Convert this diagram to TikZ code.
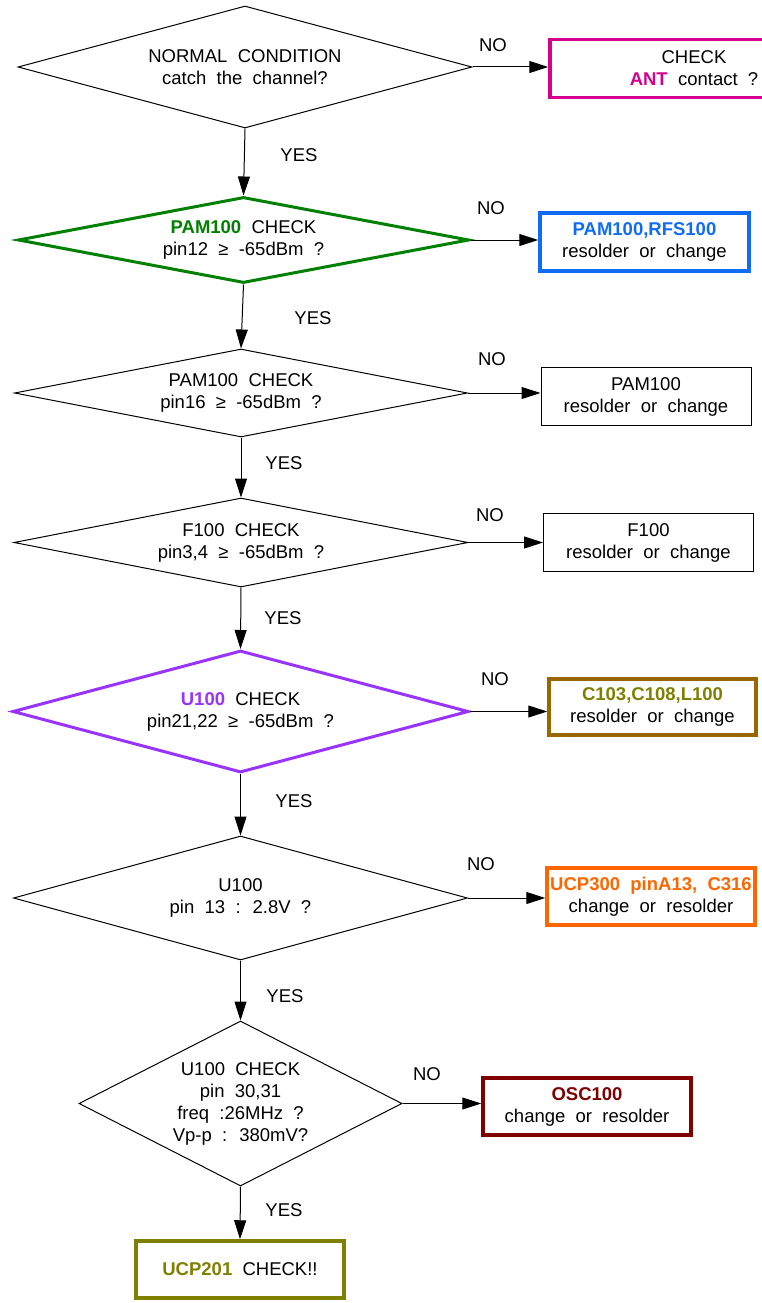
\documentclass[tikz,border=0pt]{standalone}
\usepackage{fontspec}
\setmainfont{Liberation Sans}[WordSpace=2]
\usetikzlibrary{shapes.geometric,arrows.meta}
\definecolor{cMag}{RGB}{214,0,143}
\definecolor{cGreen}{RGB}{0,128,0}
\definecolor{cBlue}{RGB}{17,108,245}
\definecolor{cPurple}{RGB}{153,51,255}
\definecolor{cBrown}{RGB}{153,102,0}
\definecolor{cOlive}{RGB}{128,128,0}
\definecolor{cOrange}{RGB}{255,102,0}
\definecolor{cDark}{RGB}{128,0,0}
\begin{document}
\begin{tikzpicture}[x=1pt,y=-1pt,
  every node/.style={font=\fontsize{18.5}{22}\selectfont},
  dia/.style={diamond, draw, inner sep=0pt, line width=1pt, align=center},
  thickdia/.style={dia, line width=3pt},
  box/.style={rectangle, draw, inner sep=0pt, align=center, line width=1pt},
  thickbox/.style={box, line width=3.5pt},
  arr/.style={line width=1pt, -{Triangle[length=19pt,width=12pt]}},
  lbl/.style={inner sep=0pt}]
\path[use as bounding box] (0,0) rectangle (762,1303);
\clip (0,0) rectangle (762,1303);
\fill[white] (0,0) rectangle (762,1303);

% decisions
\node[dia, minimum width=454pt, minimum height=122pt, shape aspect=3.72] (d1) at (245,67)
  {NORMAL CONDITION\\catch the channel?};
\node[thickdia, draw=cGreen, minimum width=451pt, minimum height=86pt, shape aspect=5.24] (d2) at (243.5,240)
  {\textcolor{cGreen}{\bfseries PAM100} CHECK\\pin12 ≥ -65dBm ?};
\node[dia, minimum width=453pt, minimum height=88pt, shape aspect=5.15] (d3) at (241,393)
  {PAM100 CHECK\\pin16 ≥ -65dBm ?};
\node[dia, minimum width=454pt, minimum height=89pt, shape aspect=5.1] (d4) at (241,542.5)
  {F100 CHECK\\pin3,4 ≥ -65dBm ?};
\node[thickdia, draw=cPurple, minimum width=456pt, minimum height=122pt, shape aspect=3.74] (d5) at (240.5,711.5)
  {\textcolor{cPurple}{\bfseries U100} CHECK\\pin21,22 ≥ -65dBm ?};
\node[dia, minimum width=454pt, minimum height=124pt, shape aspect=3.66] (d6) at (240.5,898)
  {U100\\pin 13 : 2.8V ?};
\node[dia, minimum width=323pt, minimum height=165pt, shape aspect=1.96] (d7) at (240.5,1103.5)
  {U100 CHECK\\pin 30,31\\freq :26MHz ?\\Vp-p : 380mV?};

% result boxes
\node[thickbox, draw=cMag, minimum width=288pt, minimum height=58pt] (b1) at (694,68.5)
  {CHECK\\\textcolor{cMag}{\bfseries ANT} contact ?};
\node[thickbox, draw=cBlue, minimum width=209pt, minimum height=58pt] (b2) at (644.5,242)
  {\textcolor{cBlue}{\bfseries PAM100,RFS100}\\resolder or change};
\node[box, minimum width=210pt, minimum height=58pt] (b3) at (646,396.5)
  {PAM100\\resolder or change};
\node[box, minimum width=210pt, minimum height=58pt] (b4) at (648.5,542.5)
  {F100\\resolder or change};
\node[thickbox, draw=cBrown, minimum width=207pt, minimum height=56pt] (b5) at (652.5,707)
  {\textcolor{cOlive}{\bfseries C103,C108,L100}\\resolder or change};
\node[thickbox, draw=cOrange, minimum width=208pt, minimum height=57pt] (b6) at (651,896.5)
  {\textcolor{cOrange}{\bfseries UCP300 pinA13, C316}\\change or resolder};
\node[thickbox, draw=cDark, minimum width=208pt, minimum height=57pt] (b7) at (587,1106.5)
  {\textcolor{cDark}{\bfseries OSC100}\\change or resolder};
\node[thickbox, draw=cOlive, minimum width=208pt, minimum height=57pt] (b8) at (240,1269.5)
  {\textcolor{cOlive}{\bfseries UCP201} CHECK!!};

% NO branches
\draw[arr] (d1.east) -- (d1.east -| b1.west);
\draw[arr] (d2.east) -- (d2.east -| b2.west);
\draw[arr] (d3.east) -- (d3.east -| b3.west);
\draw[arr] (d4.east) -- (d4.east -| b4.west);
\draw[arr] (d5.east) -- (d5.east -| b5.west);
\draw[arr] (d6.east) -- (d6.east -| b6.west);
\draw[arr] (d7.east) -- (d7.east -| b7.west);

% YES branches
\draw[arr] (d1.south) -- (d2.north);
\draw[arr] (d2.south) -- (d3.north);
\draw[arr] (d3.south) -- (d4.north);
\draw[arr] (d4.south) -- (d5.north);
\draw[arr] (d5.south) -- (d6.north);
\draw[arr] (d6.south) -- (d7.north);
\draw[arr] (d7.south) -- (b8.north);

% labels
\node[lbl] (no1) at (493,45) {NO};
\node[lbl] (no2) at (491,208) {NO};
\node[lbl] (no3) at (492,359) {NO};
\node[lbl] (no4) at (490,515) {NO};
\node[lbl] (no5) at (495,679) {NO};
\node[lbl] (no6) at (481,864) {NO};
\node[lbl] (no7) at (427,1074) {NO};
\node[lbl] (yes1) at (299,155) {YES};
\node[lbl] (yes2) at (313,318) {YES};
\node[lbl] (yes3) at (284,463) {YES};
\node[lbl] (yes4) at (283,618) {YES};
\node[lbl] (yes5) at (294,801) {YES};
\node[lbl] (yes6) at (285,996) {YES};
\node[lbl] (yes7) at (284,1210) {YES};
\end{tikzpicture}
\end{document}
